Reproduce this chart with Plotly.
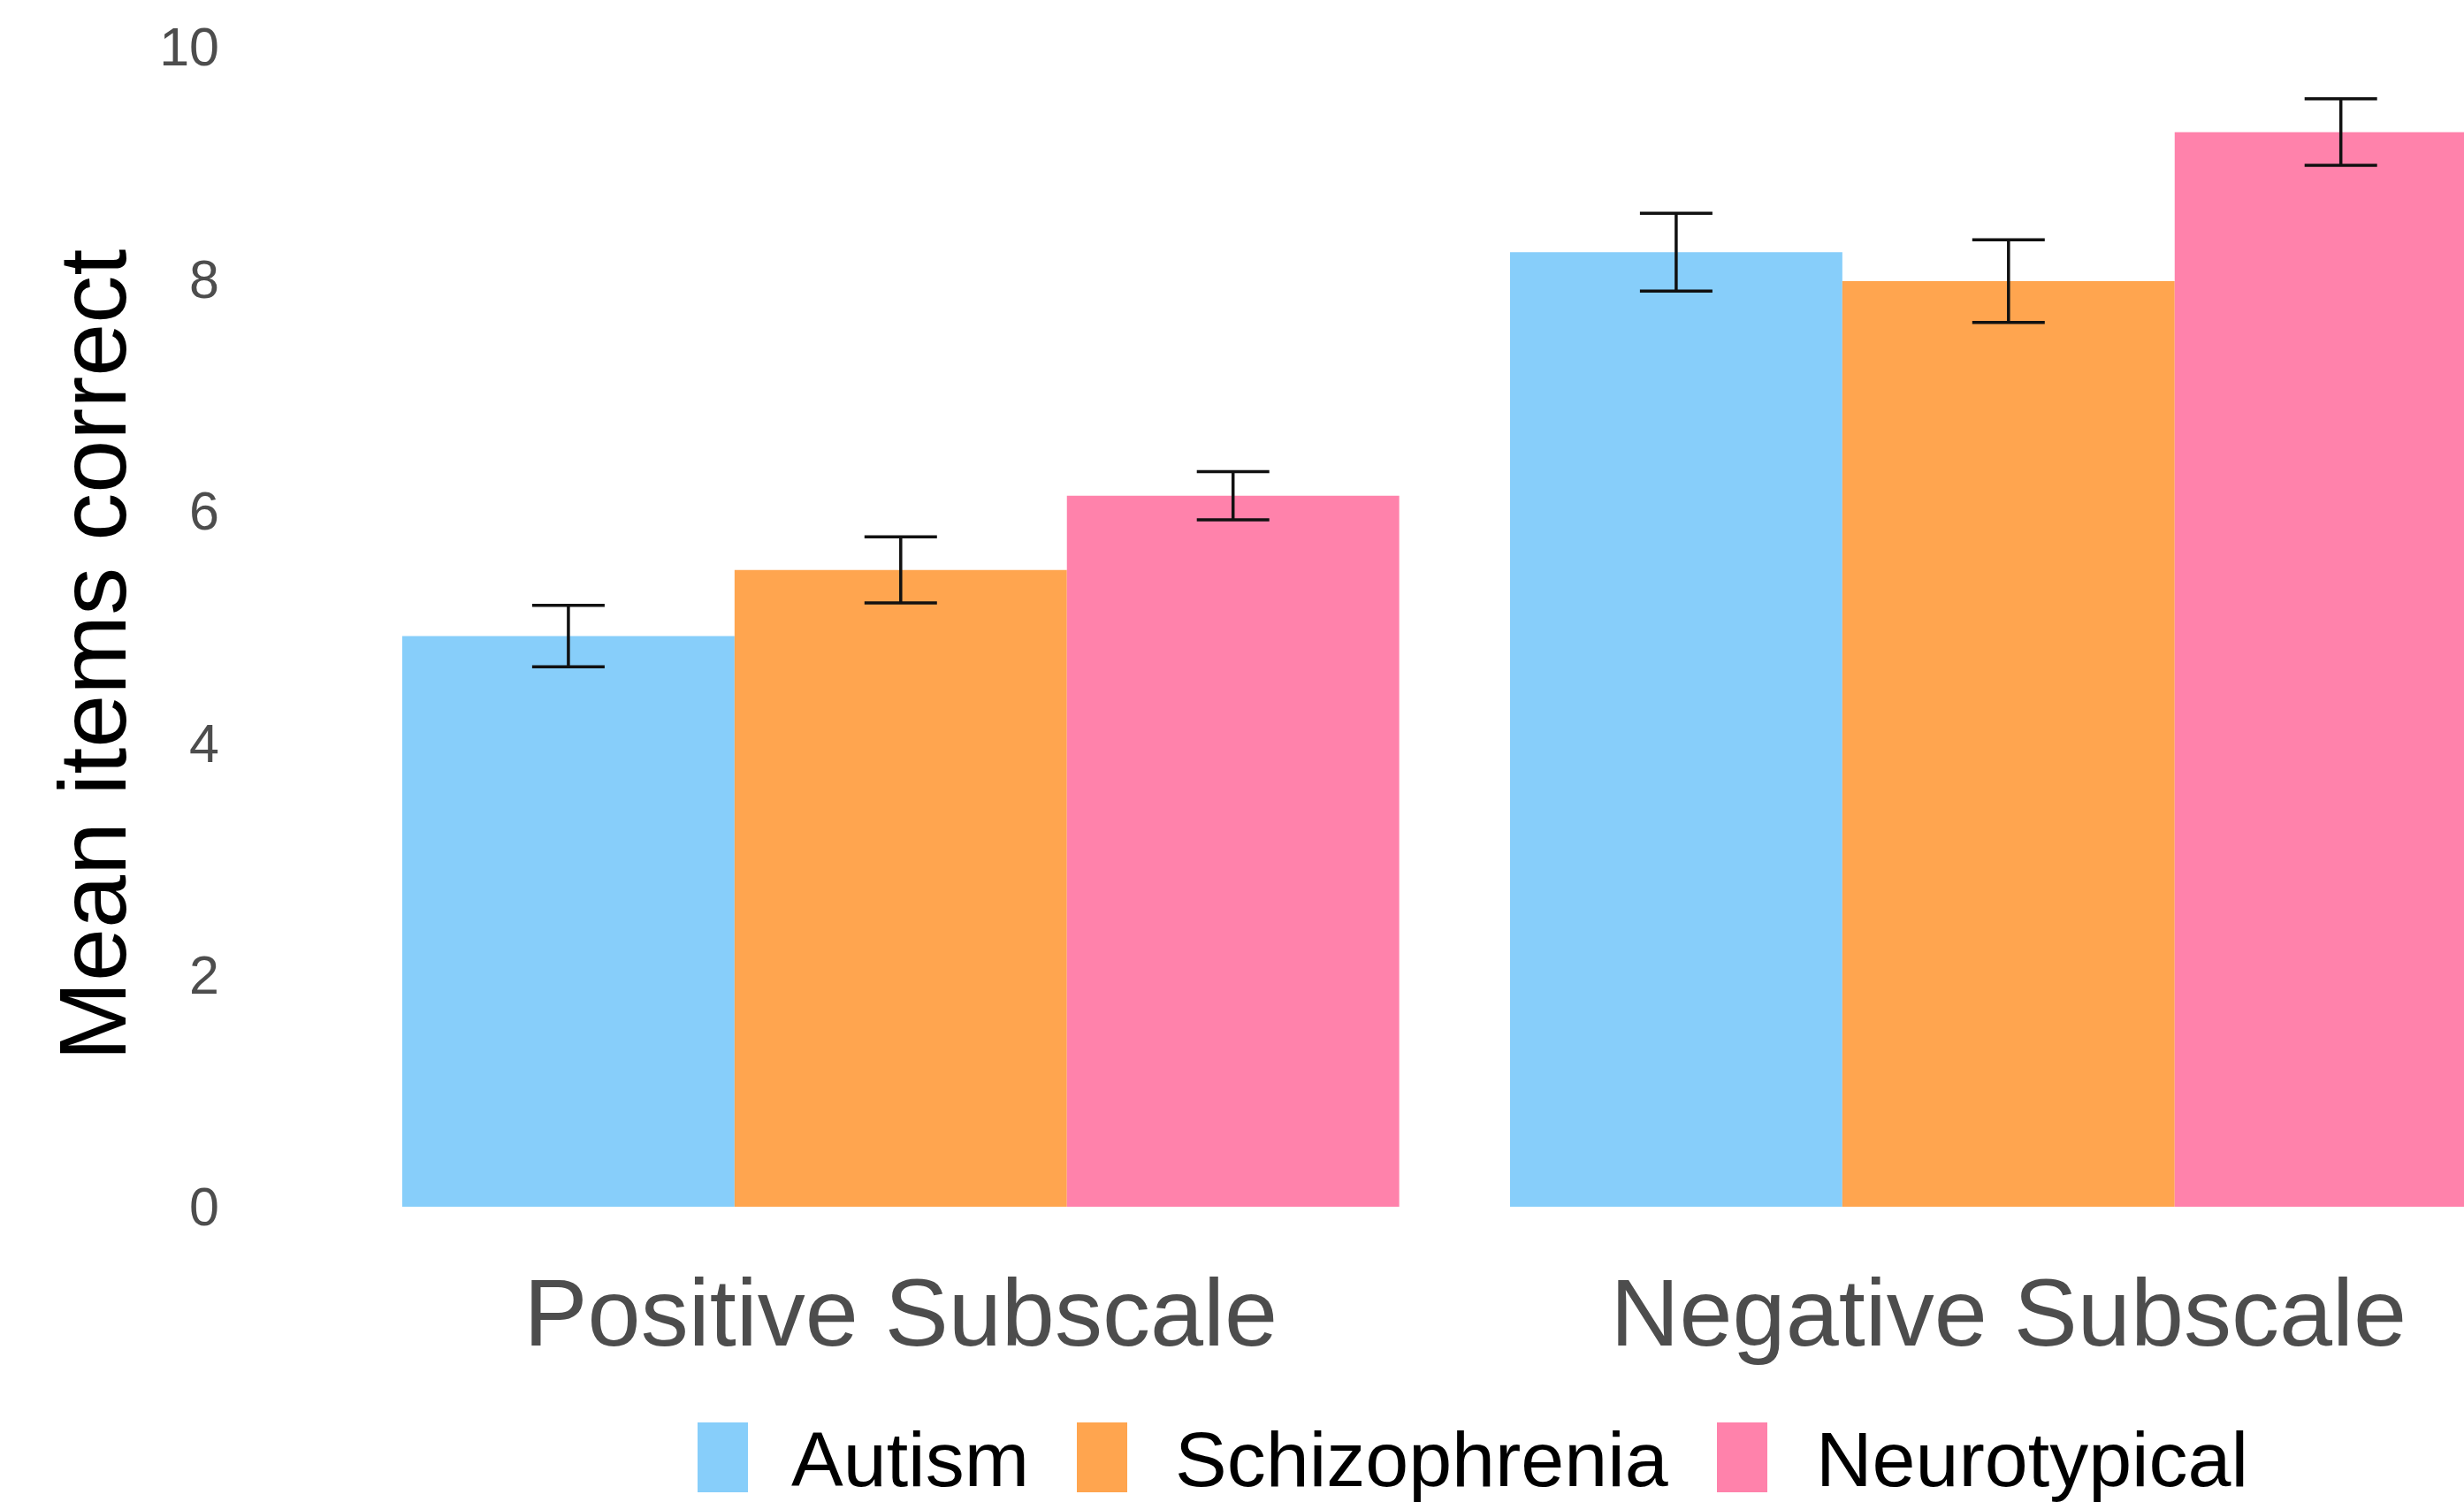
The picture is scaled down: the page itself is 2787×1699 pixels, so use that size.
import plotly.graph_objects as go

# ---- data ----
subscales = ["Positive Subscale", "Negative Subscale"]
groups = ["Autism", "Schizophrenia", "Neurotypical"]
autism_mean = [4.92, 8.23]
autism_se = [0.265, 0.335]
schizo_mean = [5.49, 7.98]
schizo_se = [0.285, 0.357]
neuro_mean = [6.13, 9.265]
neuro_se = [0.208, 0.287]
y_ticks = [0, 2, 4, 6, 8, 10]

colors = ["#87CEFA", "#FFA54F", "#FF82AB"]
means = [autism_mean, schizo_mean, neuro_mean]
ses = [autism_se, schizo_se, neuro_se]

W, H = 2787, 1699
OFF = 0  # body margin removed via post_script
L, R, T, B = 267 - OFF, 0, 0, 1699 - (1365 - OFF)
PW, PH = W - L - R, H - T - B
FONT = "Liberation Sans, Arial, Helvetica, sans-serif"

def px(x):
    return (x - OFF - L) / PW

def py(y):
    return (H - B - (y - OFF)) / PH

fig = go.Figure()
for g, m, s, c in zip(groups, means, ses, colors):
    fig.add_trace(go.Bar(
        name=g, x=subscales, y=m, marker=dict(color=c, line=dict(width=0)),
        error_y=dict(type="data", array=s, visible=True, color="#111111",
                     thickness=3.5, width=41),
        showlegend=False,
    ))

# custom legend (swatches + labels)
sw_left = [789, 1218, 1942]
tx_left = [893, 1327, 2052]
shapes = []
annotations = []
for g, c, sx, tx in zip(groups, colors, sw_left, tx_left):
    shapes.append(dict(type="rect", xref="paper", yref="paper",
                       x0=px(sx), x1=px(sx + 57), y0=py(1609), y1=py(1688),
                       fillcolor=c, line=dict(width=0)))
    annotations.append(dict(text=g, xref="paper", yref="paper",
                            x=px(tx), y=py(1650), xanchor="left", yanchor="middle",
                            showarrow=False,
                            font=dict(family=FONT, size=88, color="#000000")))

annotations.append(dict(text="Mean items correct", xref="paper", yref="paper",
                        x=px(104), y=py(741), xanchor="center", yanchor="middle",
                        textangle=-90, showarrow=False,
                        font=dict(family=FONT, size=108, color="#000000")))

unit_y = 131.2
unit_x = 1253.0
ymax = PH / unit_y
x_right = -0.6 + PW / unit_x

fig.update_layout(
    width=W, height=H,
    margin=dict(l=L, r=R, t=T, b=B, pad=0),
    paper_bgcolor="white", plot_bgcolor="white",
    barmode="group", bargap=0.1, bargroupgap=0,
    font=dict(family=FONT),
    shapes=shapes, annotations=annotations,
    xaxis=dict(range=[-0.6, x_right], showgrid=False, zeroline=False, showline=False,
               ticks="", tickfont=dict(family=FONT, size=108, color="#4D4D4D"),
               ticklabelstandoff=48),
    yaxis=dict(range=[0, ymax], tickvals=y_ticks, showgrid=False, zeroline=False,
               showline=False, ticks="",
               tickfont=dict(family=FONT, size=61, color="#4D4D4D"),
               ticklabelstandoff=18),
)

fig.write_html(
    "out.html",
    config={"displayModeBar": False},
    post_script="document.body.style.margin='0';document.body.style.overflow='hidden';",
)
